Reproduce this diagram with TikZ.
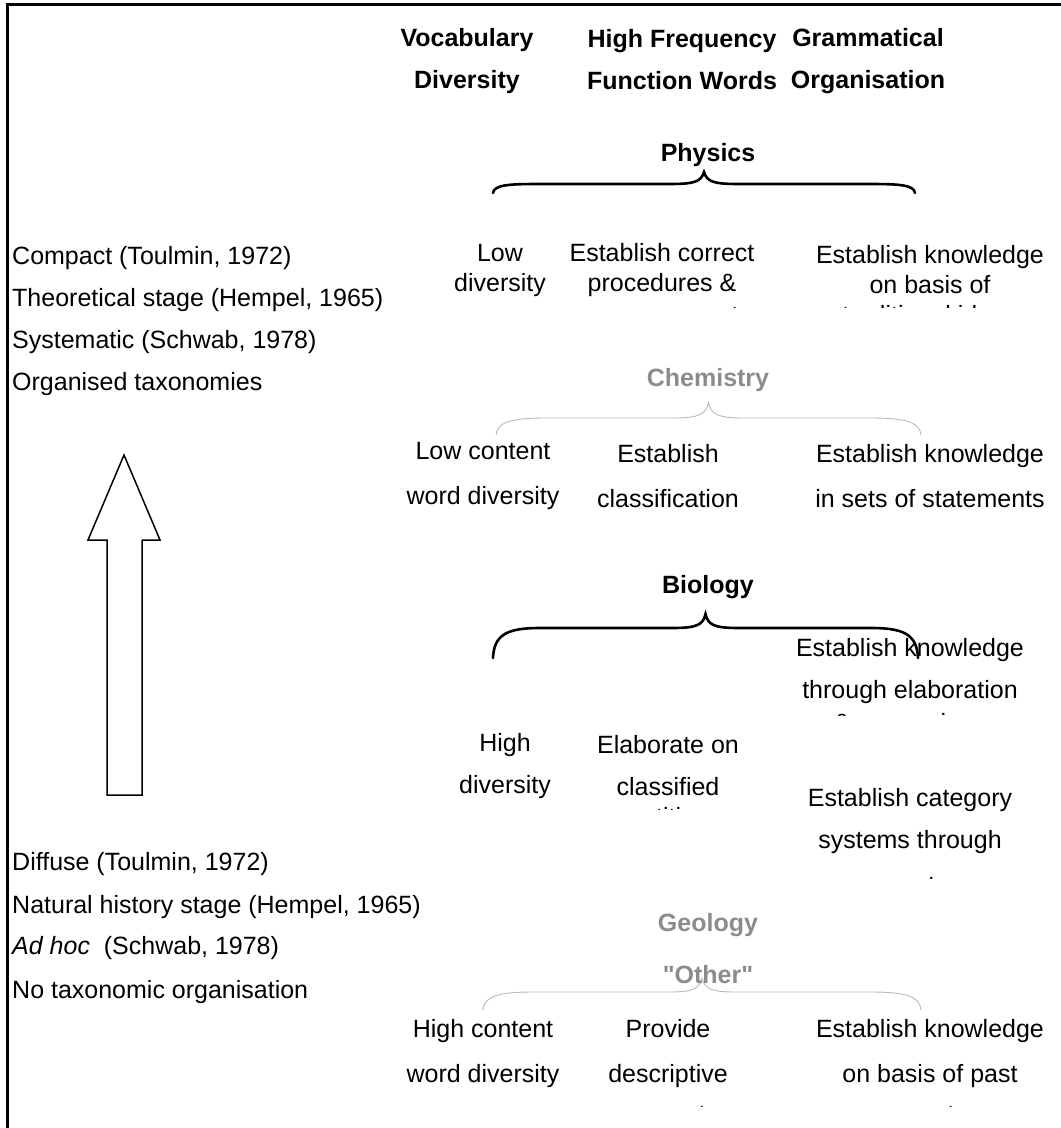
\documentclass[tikz,border=0pt]{standalone}
\usepackage{fontspec}
\setmainfont{Liberation Sans}[Ligatures=TeXOff]
\usetikzlibrary{positioning}

\definecolor{subjgray}{RGB}{140,140,140}
\definecolor{bracegray}{RGB}{185,185,185}

\tikzset{
  txt/.style={font=\fontsize{25}{#1}\selectfont, align=center, inner sep=0pt},
  txt/.default=44,
  head/.style={txt=42, font=\fontsize{25}{42}\selectfont\bfseries},
  subj/.style={font=\fontsize{25}{30}\selectfont\bfseries, inner sep=0pt},
  faint/.style={subj, text=subjgray},
  stage/.style={font=\fontsize{25}{30}\selectfont, anchor=west, inner sep=0pt},
  cut/.style={font=\fontsize{25}{30}\selectfont, anchor=base, inner sep=0pt},
  bigbrace/.style={line width=2.6pt, line cap=round},
  thinbrace/.style={line width=0.9pt, draw=bracegray},
}

\begin{document}
\begin{tikzpicture}[x=1pt, y=-1pt]
  \useasboundingbox (0,0) rectangle (1061,1128);
  \draw[line width=3pt] (7,1128) -- (7,4) -- (1061,4);

  % column heads
  \node[head] (vocab) at (467,61) {Vocabulary\\Diversity};
  \node[head] (freq) at (682,60) {High Frequency\\Function Words};
  \node[head] (gram) at (868,61) {Grammatical\\Organisation};

  % stages, left side
  \node[stage] (compact) at (12,258) {Compact (Toulmin, 1972)};
  \node[stage] (theory) at (12,300) {Theoretical stage (Hempel, 1965)};
  \node[stage] (system) at (12,342) {Systematic (Schwab, 1978)};
  \node[stage] (organ) at (12,384) {Organised taxonomies};
  \node[stage] (diffuse) at (12,864) {Diffuse (Toulmin, 1972)};
  \node[stage] (natural) at (12,907) {Natural history stage (Hempel, 1965)};
  \node[stage] (adhoc) at (12,948) {\textit{Ad hoc}~ (Schwab, 1978)};
  \node[stage] (notax) at (12,992) {No taxonomic organisation};

  \draw[line width=1.5pt] (124,455) -- (160,540) -- (142,540) -- (142,795)
    -- (107,795) -- (107,540) -- (88,540) -- cycle;

  % Physics
  \node[subj] (physics) at (708,155) {Physics};
  \draw[bigbrace] (493,193) .. controls (494,185) and (508,184) .. (538,184)
    -- (669,184) .. controls (694,184) and (701,182) .. (704,172)
    .. controls (707,182) and (714,184) .. (739,184) -- (870,184)
    .. controls (900,184) and (914,185) .. (915,193);
  \node[txt=30] (physA) at (500,270) {Low\\diversity};
  \node[txt=30] (physB) at (662,270) {Establish correct\\procedures \&};
  \node[txt=30] (physC) at (930,270) {Establish knowledge\\on basis of};
  \begin{scope}
    \clip (560,303) rectangle (1061,307.5);
    \node[cut] (physB3) at (662,323) {measurement};
    \node[cut] (physC3) at (930,323) {traditional ideas};
  \end{scope}

  % Chemistry
  \node[faint] (chem) at (708,380) {Chemistry};
  \draw[thinbrace] (496,435) .. controls (497,422) and (512,418) .. (546,418)
    -- (674,418) .. controls (699,418) and (706,414) .. (708.5,403)
    .. controls (711,414) and (718,418) .. (743,418) -- (871,418)
    .. controls (905,418) and (920,422) .. (921,435);
  \node[txt=45] (chemA) at (483,476) {Low content\\word diversity};
  \node[txt=45] (chemB) at (668,476) {Establish\\classification};
  \node[txt=45] (chemC) at (930,476) {Establish knowledge\\in sets of statements};

  % Biology
  \node[subj] (bio) at (708,587) {Biology};
  \draw[bigbrace] (493,658) .. controls (494,634) and (508,628) .. (540,628)
    -- (672,628) .. controls (697,628) and (703,625) .. (705.5,614)
    .. controls (708,625) and (714,628) .. (739,628) -- (871,628)
    .. controls (903,628) and (917,634) .. (918,658);
  \node[txt=42] (bioC1) at (910,671) {Establish knowledge\\through elaboration};
  \node[txt=42] (bioC2) at (910,821) {Establish category\\systems through};
  \node[txt=42] (bioA) at (505,766) {High\\diversity};
  \node[txt=42] (bioB) at (668,766) {Elaborate on\\classified};
  \begin{scope}
    \clip (560,711) rectangle (1061,715.5);
    \node[cut] (bioC13) at (910,731) {\& comparison};
  \end{scope}
  \begin{scope}
    \clip (560,805) rectangle (800,809.5);
    \node[cut] (bioB3) at (668,825) {entities};
  \end{scope}
  \begin{scope}
    \clip (800,875) rectangle (1061,879.5);
    \node[cut] (bioC23) at (910,895) {comparison};
  \end{scope}

  % Geology / other
  \node[faint] (geo) at (708,925) {Geology};
  \draw[thinbrace] (483,1010) .. controls (484,996) and (499,992) .. (533,992)
    -- (668,992) .. controls (693,992) and (699,989) .. (702,978)
    .. controls (705,989) and (711,992) .. (736,992) -- (871,992)
    .. controls (905,992) and (920,996) .. (921,1010);
  \node[faint] (other) at (708,975) {"Other"};
  \node[txt=45] (othA) at (483,1054) {High content\\word diversity};
  \node[txt=45] (othB) at (668,1054) {Provide\\descriptive};
  \node[txt=45] (othC) at (930,1054) {Establish knowledge\\on basis of past};
  \begin{scope}
    \clip (560,1102) rectangle (1061,1106.5);
    \node[cut] (othB3) at (668,1122) {accounts};
    \node[cut] (othC3) at (930,1122) {events};
  \end{scope}
\end{tikzpicture}
\end{document}
